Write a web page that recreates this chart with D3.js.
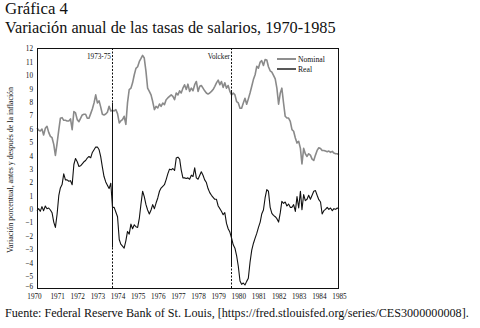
<!DOCTYPE html>
<html>
<head>
<meta charset="utf-8">
<script src="https://cdn.jsdelivr.net/npm/d3@7"></script>
<style>
  html, body { margin: 0; padding: 0; background: #fff; }
  svg { display: block; }
</style>
</head>
<body>
<svg id="chart" width="480" height="328"></svg>
<script>
// Monthly series, January 1970 to January 1985 (percent change, year over year)
const startMonth = new Date(1970, 0, 1);

const nominal = [
  6.02, 5.85, 5.8, 5.95, 5.5, 6.0, 6.15, 5.7, 5.4, 5.3,
  4.8, 3.98, 4.9, 5.9, 6.75, 6.8, 6.6, 6.6, 6.55, 6.55,
  6.7, 5.9, 7.25, 7.15, 6.65, 6.5, 6.75, 7.0, 7.05, 7.05,
  6.75, 6.75, 7.1, 7.45, 7.9, 8.5, 7.9, 8.05, 7.6, 7.05,
  7.0, 7.07, 7.2, 7.65, 7.3, 7.35, 7.3, 7.4, 7.1, 6.4,
  6.55, 6.65, 6.9, 6.3, 7.9, 8.9, 9.0, 9.4, 10.0, 10.48,
  10.6, 11.0, 11.2, 11.45, 11.25, 10.26, 9.0, 8.76, 8.5, 8.0,
  7.4, 7.64, 7.52, 7.82, 7.64, 7.89, 7.77, 8.14, 8.27, 8.39,
  8.5, 8.39, 8.14, 8.64, 8.5, 8.8, 8.64, 9.0, 9.25, 8.9,
  9.3, 8.76, 9.0, 8.81, 9.26, 9.5, 8.76, 9.14, 9.2, 9.0,
  8.8, 8.64, 8.56, 8.64, 8.76, 8.9, 9.14, 9.4, 9.6, 9.26,
  9.5, 9.06, 9.4, 9.0, 9.2, 8.76, 8.5, 8.64, 8.5, 8.0,
  7.9, 7.5, 7.5, 7.9, 8.25, 7.8, 8.2, 8.64, 9.14, 9.64,
  10.0, 10.63, 10.5, 10.95, 11.05, 10.7, 11.13, 11.1, 10.6, 10.3,
  10.2, 9.95, 9.7, 9.0, 7.8, 8.64, 9.0, 7.89, 6.9, 6.77,
  6.77, 6.52, 5.9, 5.78, 5.28, 4.9, 5.03, 4.5, 3.34, 4.5,
  4.1, 3.9, 4.1, 4.0, 3.7, 3.6, 4.0, 4.35, 4.55, 4.5,
  4.35, 4.35, 4.3, 4.25, 4.3, 4.2, 4.28, 4.15, 4.1, 4.1, 4.03
];

const real = [
  -0.15, 0.0, -0.2, 0.15, -0.15, 0.2, 0.0, 0.05, -0.1, -0.3,
  -1.0, -1.4, -0.4, 1.0, 1.55, 1.8, 2.6, 2.15, 2.15, 2.05,
  2.09, 1.79, 3.3, 3.75, 3.5, 3.15, 3.2, 3.35, 3.5, 3.6,
  3.78, 3.9, 3.8, 4.2, 4.4, 4.6, 4.6, 4.4, 3.9, 3.1,
  2.4, 2.0, 1.75, 1.5, 1.9, 0.1, 0.1, -0.25, -0.6, -2.3,
  -2.65, -2.8, -2.95, -2.4, -1.7, -1.9, -1.15, -1.5, -1.2, -1.35,
  -1.4, -0.7, 0.3, 1.3, 0.9, 0.3, -0.1, -0.4, -0.1, 0.3,
  0.0, 0.42, 0.8, 1.3, 1.54, 1.67, 1.79, 2.17, 2.6, 2.95,
  2.9, 3.0, 2.85, 3.78, 3.85, 3.7, 2.9, 2.3, 2.3, 2.25,
  2.3, 2.2, 2.5, 2.4, 3.05, 2.3, 2.2, 2.5, 2.75, 2.5,
  2.15, 1.95, 1.5, 1.2, 1.0, 0.85, 0.7, 0.7, 0.2, 0.0,
  -0.2, -0.45, -0.3, -1.1, -1.5, -1.75, -2.2, -2.7, -2.95, -3.5,
  -4.3, -5.4, -5.65, -5.55, -5.7, -5.43, -5.2, -4.0, -3.1, -2.6,
  -2.2, -1.85, -1.4, -1.0, -0.4, -0.1, 0.8, 1.42, 1.3, 0.1,
  -0.35, -0.5, -0.6, -0.75, -1.0, -0.3, 0.55, 0.4, 0.5, 0.2,
  0.35, 0.1, 0.1, 0.3, -0.2, 0.9, 0.05, 1.3, -0.07, 1.05,
  0.6, 0.7, 1.0, 0.7, 1.0, 1.3, 1.35, 1.0, 0.67, 0.5,
  -0.4, -0.15, -0.05, 0.1, -0.05, 0.05, -0.15, 0.0, -0.05, 0.05, 0.0
];

const yearTicks = d3.range(1970, 1986);
const valueTicks = d3.range(-6, 13);

// Event markers: label, date, and the value span drawn as a solid segment
const eventLabels = ["1973-75", "Volcker"];
const eventDates = [new Date(1973, 9, 1), new Date(1979, 7, 20)];
const eventSolidSpans = [[7.9, -2.9], [8.86, -4.36]];

const seriesNames = ["Nominal", "Real"];
const seriesColors = ["#8a8a8a", "#111"];
const seriesWidths = [1.6, 1.1];

// ---- drawing ----
const svg = d3.select("#chart");
const margin = { left: 37, right: 141, top: 48, bottom: 39 };
const W = 480, H = 328;

const x = d3.scaleTime()
  .domain([new Date(1970, 0, 1), new Date(1985, 0, 1)])
  .range([margin.left, W - margin.right]);
const y = d3.scaleLinear()
  .domain([-6, 12])
  .range([H - margin.bottom, margin.top]);

const serif = "'Liberation Serif', 'Times New Roman', serif";

function fitText(sel, width) {
  const len = sel.node().getComputedTextLength();
  const fs = parseFloat(sel.attr("font-size"));
  sel.attr("font-size", (fs * width / len).toFixed(2));
}
// horizontally condense a label to a fraction of its natural width
function condense(sel, k) {
  sel.each(function () {
    const len = this.getComputedTextLength();
    d3.select(this).attr("textLength", (len * k).toFixed(2))
      .attr("lengthAdjust", "spacingAndGlyphs");
  });
}

// Title block
const t1 = svg.append("text").attr("x", 5).attr("y", 14)
  .attr("font-family", serif).attr("font-size", 15).attr("fill", "#111")
  .text("Gráfica 4");
fitText(t1, 63);
const t2 = svg.append("text").attr("x", 5).attr("y", 32.5)
  .attr("font-family", serif).attr("font-size", 15).attr("fill", "#111")
  .text("Variación anual de las tasas de salarios, 1970-1985");
fitText(t2, 331);

// Source line
const src = svg.append("text").attr("x", 5).attr("y", 317)
  .attr("font-family", serif).attr("font-size", 11).attr("fill", "#111")
  .text("Fuente: Federal Reserve Bank of St. Louis, [https://fred.stlouisfed.org/series/CES3000000008].");
fitText(src, 464);

// Axes (labels only, no tick marks)
const xAxis = svg.append("g")
  .attr("transform", `translate(0,${H - margin.bottom})`)
  .call(d3.axisBottom(x)
    .tickValues(yearTicks.map(yr => new Date(yr, 0, 1)))
    .tickFormat(d3.timeFormat("%Y"))
    .tickSize(0).tickPadding(4));
xAxis.select(".domain").remove();
xAxis.selectAll("text").attr("font-family", serif).attr("font-size", 9).attr("fill", "#111")
  .call(condense, 0.8);
// first year label sits a little left of the corner
xAxis.selectAll("text").filter((d, i) => i === 0).attr("dx", -3);

const yAxis = svg.append("g")
  .attr("transform", `translate(${margin.left},0)`)
  .call(d3.axisLeft(y).tickValues(valueTicks).tickFormat(d3.format("d"))
    .tickSize(0).tickPadding(4));
yAxis.select(".domain").remove();
yAxis.selectAll("text").attr("font-family", serif).attr("font-size", 9).attr("fill", "#111")
  .call(condense, 0.8);
// lowest value label raised slightly above the corner
yAxis.selectAll("text").filter(d => d === -6).attr("dy", "-0.05em");

// Y axis title
const yTitle = svg.append("text")
  .attr("transform", `translate(13,170) rotate(-90)`)
  .attr("text-anchor", "middle")
  .attr("font-family", serif).attr("font-size", 8.5).attr("fill", "#111")
  .text("Variación porcentual, antes y después de la inflación");
yTitle.attr("textLength", 166).attr("lengthAdjust", "spacingAndGlyphs");

// Series lines
const dates = nominal.map((_, i) => d3.timeMonth.offset(startMonth, i));
const line = d3.line().x((d, i) => x(dates[i])).y(d => y(d));

[nominal, real].forEach((vals, k) => {
  svg.append("path")
    .datum(vals)
    .attr("fill", "none")
    .attr("stroke", seriesColors[k])
    .attr("stroke-width", seriesWidths[k])
    .attr("stroke-linejoin", "round")
    .attr("d", line);
});

// Event markers
eventDates.forEach((dt, k) => {
  const xp = Math.round(x(dt)) + 0.5;
  svg.append("line")
    .attr("x1", xp).attr("x2", xp)
    .attr("y1", y(12)).attr("y2", y(-6))
    .attr("stroke", "#111").attr("stroke-width", 1)
    .attr("stroke-dasharray", "2,1.5");
  svg.append("line")
    .attr("x1", xp).attr("x2", xp)
    .attr("y1", y(eventSolidSpans[k][0])).attr("y2", y(eventSolidSpans[k][1]))
    .attr("stroke", "#111").attr("stroke-width", 1);
  svg.append("text")
    .attr("x", xp - 1.5).attr("y", 59)
    .attr("text-anchor", "end")
    .attr("font-family", serif).attr("font-size", 8.5).attr("fill", "#111")
    .text(eventLabels[k])
    .call(condense, 0.85);
});

// Plot frame
svg.append("rect")
  .attr("x", margin.left + 0.5).attr("y", margin.top + 0.5)
  .attr("width", W - margin.right - margin.left - 1)
  .attr("height", H - margin.bottom - margin.top - 1)
  .attr("fill", "none").attr("stroke", "#111").attr("stroke-width", 1);

// Legend
seriesNames.forEach((name, k) => {
  const ly = 59 + k * 10;
  svg.append("line")
    .attr("x1", 277).attr("x2", 296).attr("y1", ly).attr("y2", ly)
    .attr("stroke", seriesColors[k]).attr("stroke-width", seriesWidths[k] + 0.3);
  svg.append("text")
    .attr("x", 298).attr("y", ly + 3)
    .attr("font-family", serif).attr("font-size", 8.5).attr("fill", "#111")
    .text(name)
    .call(condense, 0.9);
});
</script>
</body>
</html>
